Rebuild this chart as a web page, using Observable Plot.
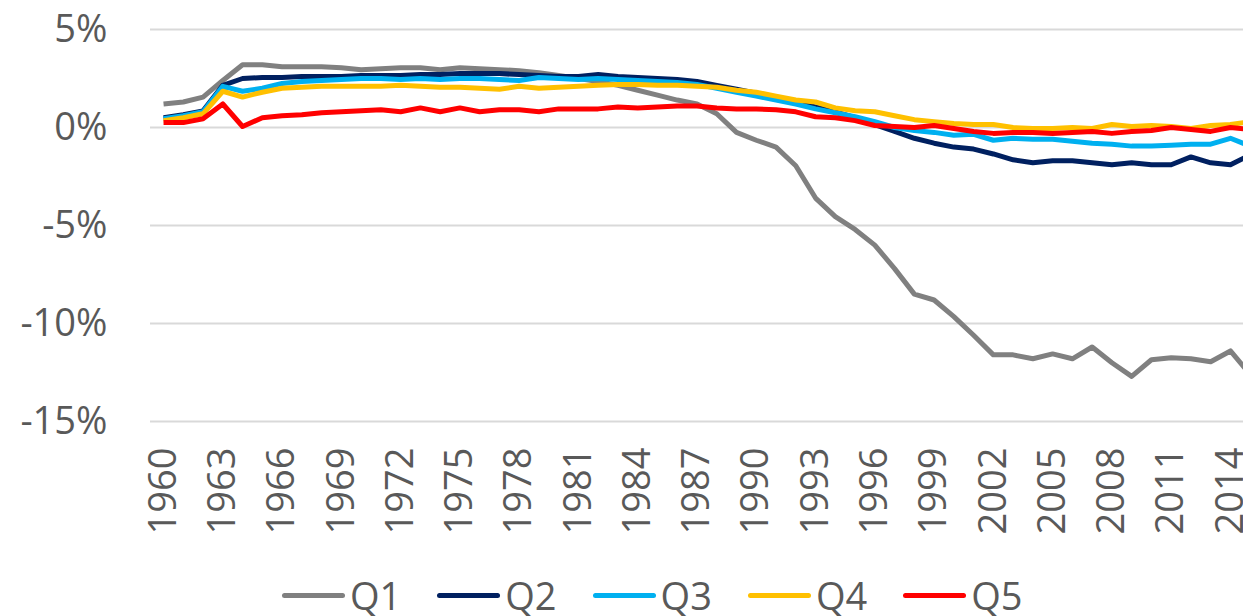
<!DOCTYPE html>
<html>
<head>
<meta charset="utf-8">
<script src="https://cdn.jsdelivr.net/npm/d3@7"></script>
<script src="https://cdn.jsdelivr.net/npm/@observablehq/plot@0.6"></script>
<style>
  html, body { margin: 0; padding: 0; background: #fff; overflow: hidden; }
  body { position: relative; width: 1243px; height: 616px; font-family: "Open Sans", sans-serif; }
  #legend { position: absolute; left: 282px; top: 576px; display: flex; align-items: center; font-size: 38px; line-height: 1; color: #595959; white-space: nowrap; }
  #legend .item { display: flex; align-items: center; margin-right: 36px; }
  #legend .sw { width: 63px; height: 5px; border-radius: 3px; margin-right: 5px; }
</style>
</head>
<body>
<div id="chart"></div>
<div id="legend"></div>
<script>
const years = d3.range(1960, 2016);
const seriesNames = ["Q1", "Q2", "Q3", "Q4", "Q5"];
const seriesColors = ["#808080", "#002060", "#00B0F0", "#FFC000", "#FF0000"];
const yTicks = [5, 0, -5, -10, -15];
const xTicks = d3.range(1960, 2015, 3);

const q1 = [1.2, 1.3, 1.55, 2.4, 3.2, 3.2, 3.1, 3.1, 3.1, 3.05,
            2.95, 3.0, 3.05, 3.05, 2.95, 3.05, 3.0, 2.95, 2.9, 2.8,
            2.65, 2.5, 2.35, 2.15, 1.9, 1.65, 1.4, 1.2, 0.7, -0.25,
            -0.65, -1.0, -1.95, -3.6, -4.55, -5.2, -6.0, -7.2, -8.5, -8.8,
            -9.65, -10.6, -11.6, -11.6, -11.8, -11.55, -11.8, -11.2, -12.0, -12.7,
            -11.85, -11.75, -11.8, -11.95, -11.4, -12.6];
const q2 = [0.5, 0.65, 0.85, 2.15, 2.5, 2.55, 2.55, 2.6, 2.6, 2.6,
            2.65, 2.65, 2.65, 2.7, 2.7, 2.75, 2.75, 2.75, 2.7, 2.65,
            2.6, 2.6, 2.7, 2.6, 2.55, 2.5, 2.45, 2.35, 2.15, 1.95,
            1.75, 1.5, 1.25, 1.05, 0.8, 0.5, 0.15, -0.2, -0.55, -0.8,
            -1.0, -1.1, -1.35, -1.65, -1.8, -1.7, -1.7, -1.8, -1.9, -1.8,
            -1.9, -1.9, -1.5, -1.8, -1.9, -1.4];
const q3 = [0.45, 0.6, 0.8, 2.1, 1.85, 2.0, 2.25, 2.35, 2.4, 2.45,
            2.5, 2.5, 2.45, 2.5, 2.45, 2.5, 2.5, 2.45, 2.4, 2.55,
            2.5, 2.45, 2.5, 2.45, 2.4, 2.35, 2.3, 2.2, 2.0, 1.8,
            1.6, 1.4, 1.2, 0.95, 0.75, 0.55, 0.3, 0.0, -0.15, -0.25,
            -0.4, -0.35, -0.65, -0.55, -0.6, -0.6, -0.7, -0.8, -0.85, -0.95,
            -0.95, -0.9, -0.85, -0.85, -0.55, -0.95];
const q4 = [0.35, 0.5, 0.7, 1.85, 1.55, 1.8, 2.0, 2.05, 2.1, 2.1,
            2.1, 2.1, 2.15, 2.1, 2.05, 2.05, 2.0, 1.95, 2.1, 2.0,
            2.05, 2.1, 2.15, 2.2, 2.2, 2.15, 2.15, 2.1, 2.05, 1.9,
            1.8, 1.6, 1.4, 1.3, 1.0, 0.85, 0.8, 0.6, 0.4, 0.3,
            0.2, 0.15, 0.15, 0.0, -0.05, -0.05, 0.0, -0.05, 0.15, 0.05,
            0.1, 0.05, -0.05, 0.1, 0.15, 0.3];
const q5 = [0.25, 0.25, 0.45, 1.2, 0.05, 0.5, 0.6, 0.65, 0.75, 0.8,
            0.85, 0.9, 0.8, 1.0, 0.8, 1.0, 0.8, 0.9, 0.9, 0.8,
            0.95, 0.95, 0.95, 1.05, 1.0, 1.05, 1.1, 1.1, 1.0, 0.95,
            0.95, 0.9, 0.8, 0.55, 0.5, 0.35, 0.1, 0.05, 0.0, 0.1,
            -0.05, -0.2, -0.3, -0.25, -0.25, -0.3, -0.25, -0.2, -0.3, -0.2,
            -0.15, 0.0, -0.1, -0.2, 0.0, -0.1];

const seriesValues = [q1, q2, q3, q4, q5];
const data = [];
seriesNames.forEach((name, i) => {
  years.forEach((yr, j) => data.push({series: name, year: yr, value: seriesValues[i][j]}));
});

const chart = Plot.plot({
  width: 1243,
  height: 575,
  marginLeft: 150,
  marginRight: 0,
  marginTop: 29,
  marginBottom: 154,
  style: {fontFamily: "'Open Sans', sans-serif", color: "#595959", background: "#fff"},
  x: {domain: [1959.34, 2014.66]},
  y: {domain: [-15, 5]},
  color: {domain: seriesNames, range: seriesColors},
  marks: [
    Plot.gridY(yTicks, {stroke: "#d9d9d9", strokeOpacity: 1, strokeWidth: 2}),
    Plot.axisY(yTicks, {tickSize: 0, tickPadding: 43, fontSize: 38, fill: "#595959", tickFormat: d => `${d < 0 ? "-" : ""}${Math.abs(d)}%`, label: null}),
    Plot.axisX(xTicks, {tickSize: 0, tickPadding: 26, tickRotate: -90, fontSize: 38, fill: "#595959", tickFormat: d => String(d), label: null}),
    Plot.line(data, {x: "year", y: "value", z: "series", stroke: "series", strokeWidth: 5, strokeLinejoin: "round", strokeLinecap: "butt"})
  ]
});
document.getElementById("chart").appendChild(chart);

const legend = document.getElementById("legend");
seriesNames.forEach((name, i) => {
  const item = document.createElement("div");
  item.className = "item";
  const sw = document.createElement("span");
  sw.className = "sw";
  sw.style.background = seriesColors[i];
  const label = document.createElement("span");
  label.textContent = name;
  item.appendChild(sw);
  item.appendChild(label);
  legend.appendChild(item);
});
</script>
</body>
</html>
